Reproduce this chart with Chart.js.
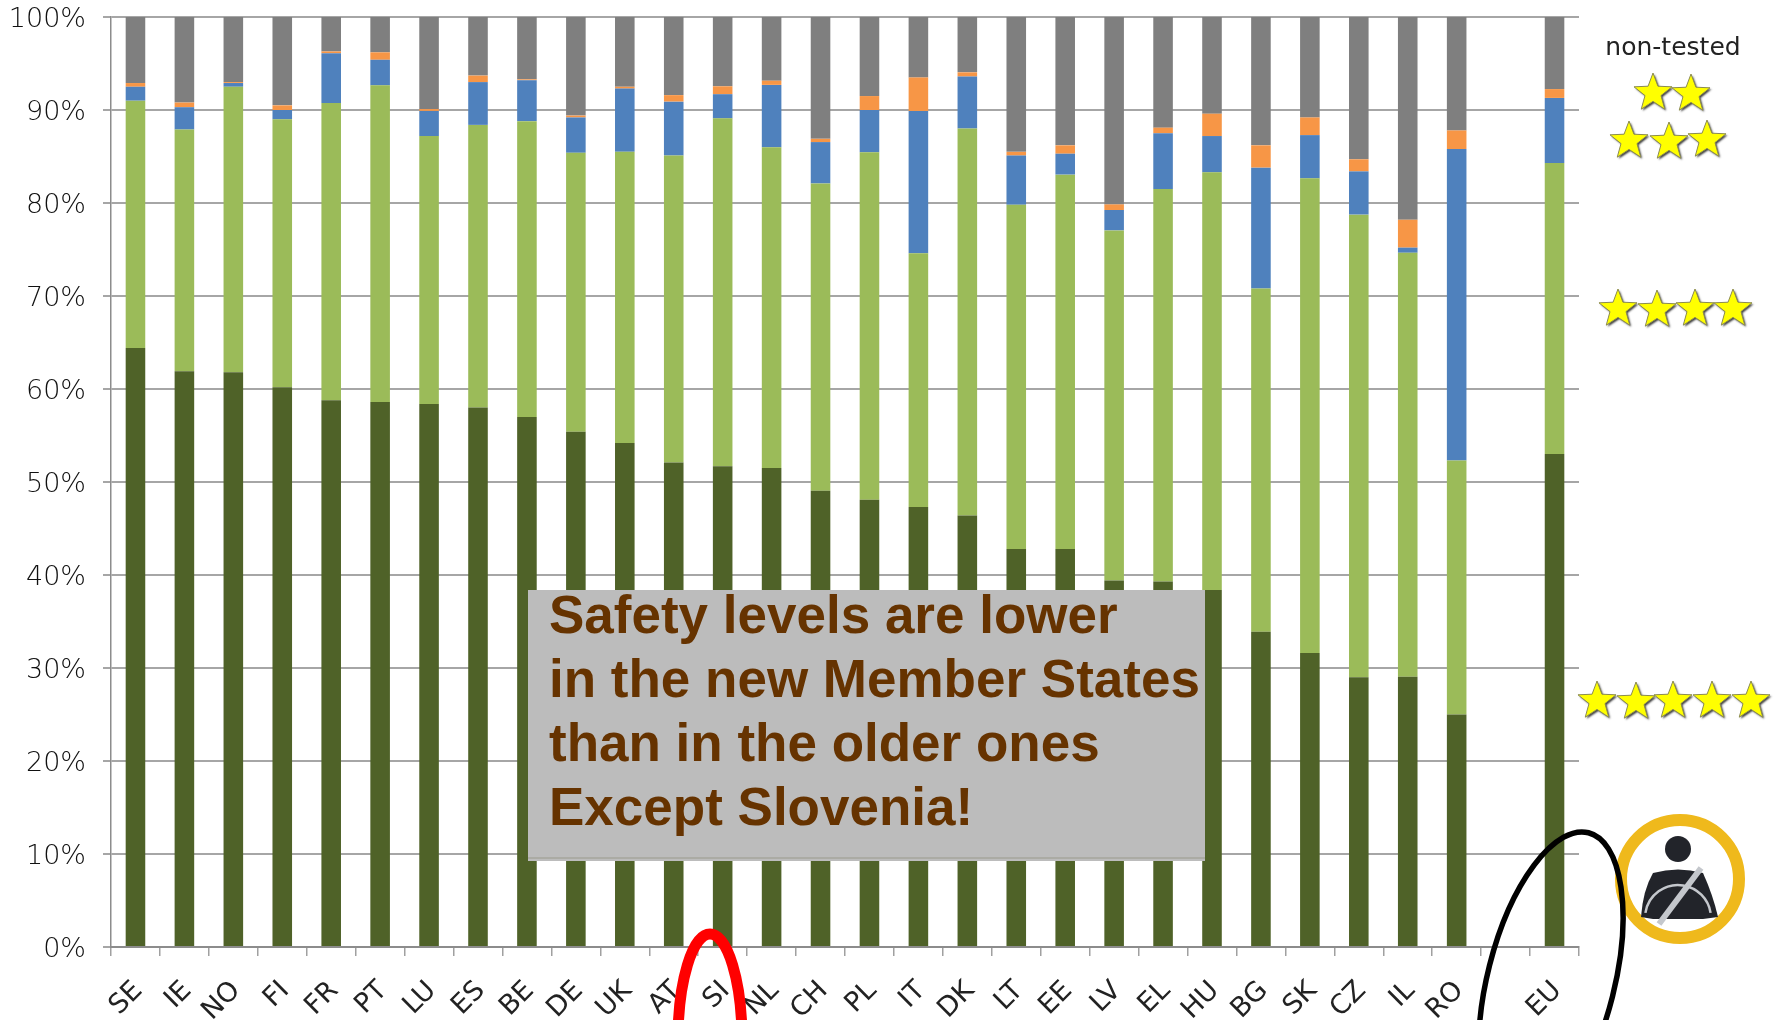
<!DOCTYPE html>
<html lang="en">
<head>
  <meta charset="UTF-8">
  <title>Car occupant safety levels by country</title>
  <script src="https://cdn.jsdelivr.net/npm/chart.js"></script>
  <style>
    html, body { margin: 0; padding: 0; background: #fff; overflow: hidden; }
    canvas { display: block; }
  </style>
</head>
<body>
  <canvas id="safetyChart" width="1781" height="1020"></canvas>

<script>
// countries, with one empty slot before the EU average
const countries = ['SE','IE','NO','FI','FR','PT','LU','ES','BE','DE','UK','AT','SI','NL','CH','PL','IT','DK','LT','EE','LV','EL','HU','BG','SK','CZ','IL','RO','','EU'];

// share of cars per star rating, in percent
const fiveStar = [64.4,61.9,61.8,60.2,58.8,58.6,58.4,58.0,57.0,55.4,54.2,52.1,51.7,51.5,49.05,48.1,47.3,46.4,42.8,42.8,39.4,39.3,38.4,33.9,31.6,29.0,29.05,25.0,null,53.0];
const fourStar = [26.6,26.0,30.7,28.8,31.95,34.05,28.8,30.4,31.8,30.0,31.3,33.0,37.4,34.5,33.05,37.35,27.3,41.6,37.0,40.25,37.65,42.2,44.9,36.9,51.05,49.75,45.6,27.3,null,31.3];
const threeStar = [1.5,2.4,0.4,1.0,5.35,2.75,2.7,4.6,4.4,3.8,6.8,5.8,2.6,6.7,4.45,4.55,15.3,5.6,5.3,2.25,2.2,6.0,3.9,13.0,4.65,4.65,0.55,33.5,null,7.0];
const twoStar = [0.4,0.5,0.1,0.5,0.2,0.8,0.2,0.7,0.1,0.2,0.2,0.7,0.85,0.45,0.35,1.5,3.6,0.45,0.4,0.9,0.6,0.6,2.4,2.4,1.9,1.3,3.0,2.0,null,0.95];
const nonTested = [7.1,9.2,7.0,9.5,3.7,3.8,9.9,6.3,6.7,10.6,7.5,8.4,7.45,6.85,13.1,8.5,6.5,5.95,14.5,13.8,20.15,11.9,10.4,13.8,10.8,15.3,21.8,12.2,null,7.75];

const noteLines = ['Safety levels are lower','in the new Member States','than in the older ones','Except Slovenia!'];

// one five-pointed star with a soft dark edge
function drawStar(ctx, cx, cy, r) {
  ctx.save();
  ctx.beginPath();
  for (let i = 0; i < 10; i++) {
    const rad = i % 2 ? r * 0.42 : r;
    const a = -Math.PI / 2 + i * Math.PI / 5;
    ctx.lineTo(cx + rad * Math.cos(a), cy + rad * Math.sin(a));
  }
  ctx.closePath();
  ctx.shadowColor = 'rgba(30,30,30,0.85)';
  ctx.shadowBlur = 2;
  ctx.shadowOffsetX = 1.5;
  ctx.shadowOffsetY = 1.5;
  ctx.fillStyle = '#ffff00';
  ctx.fill();
  ctx.shadowColor = 'transparent';
  ctx.lineWidth = 1;
  ctx.strokeStyle = '#8a8a50';
  ctx.stroke();
  ctx.restore();
}

// seat belt pictogram
function drawBeltIcon(ctx) {
  ctx.save();
  ctx.beginPath();
  ctx.arc(1680, 879, 59, 0, Math.PI * 2);
  ctx.lineWidth = 12;
  ctx.strokeStyle = '#efb91c';
  ctx.stroke();

  ctx.fillStyle = '#22242a';
  ctx.beginPath();
  ctx.arc(1678, 849, 13, 0, Math.PI * 2);
  ctx.fill();

  ctx.beginPath();
  ctx.moveTo(1653, 873);
  ctx.quadraticCurveTo(1678, 866, 1703, 873);
  ctx.quadraticCurveTo(1713, 895, 1718, 917);
  ctx.lineTo(1703, 919);
  ctx.lineTo(1653, 919);
  ctx.lineTo(1641, 917);
  ctx.quadraticCurveTo(1643, 890, 1653, 873);
  ctx.closePath();
  ctx.fill();

  // steering wheel and belt
  ctx.strokeStyle = '#c4c7cc';
  ctx.lineWidth = 2.5;
  ctx.beginPath();
  ctx.arc(1678, 918, 33, Math.PI * 1.05, Math.PI * 1.95);
  ctx.stroke();
  ctx.lineWidth = 6;
  ctx.beginPath();
  ctx.moveTo(1701, 868);
  ctx.lineTo(1659, 924);
  ctx.stroke();
  ctx.restore();
}

// grey note box, star rating column, highlight ellipses
const overlays = {
  id: 'overlays',
  afterDraw(chart) {
    const ctx = chart.ctx;
    ctx.save();

    ctx.fillStyle = '#bcbcbc';
    ctx.fillRect(528, 590, 677, 271);
    ctx.fillStyle = '#ababa4';
    ctx.fillRect(528, 857, 677, 2);

    ctx.fillStyle = '#663300';
    ctx.font = 'bold 53px "Liberation Sans", Arial, sans-serif';
    ctx.textAlign = 'left';
    ctx.textBaseline = 'alphabetic';
    noteLines.forEach((line, i) => ctx.fillText(line, 549, 633 + i * 64));

    ctx.fillStyle = '#222';
    ctx.font = '25px "DejaVu Sans", sans-serif';
    ctx.textAlign = 'center';
    ctx.fillText('non-tested', 1673, 55);

    [[1653, 93], [1691, 94],
     [1629, 141], [1669, 142], [1707, 140],
     [1618, 309], [1657, 310], [1695, 309], [1733, 309],
     [1597, 701], [1636, 702], [1673, 701], [1712, 701], [1751, 701]
    ].forEach(p => drawStar(ctx, p[0], p[1], 20));

    drawBeltIcon(ctx);

    ctx.lineWidth = 11;
    ctx.strokeStyle = '#ff0000';
    ctx.beginPath();
    ctx.ellipse(710, 1040, 32, 106, 0, 0, Math.PI * 2);
    ctx.stroke();

    ctx.lineWidth = 5.5;
    ctx.strokeStyle = '#000';
    ctx.beginPath();
    ctx.ellipse(1551, 981, 63.4, 152.9, 14.2 * Math.PI / 180, 0, Math.PI * 2);
    ctx.stroke();

    ctx.restore();
  }
};

const ctx = document.getElementById('safetyChart').getContext('2d');
new Chart(ctx, {
  type: 'bar',
  data: {
    labels: countries,
    datasets: [
      { label: '5 stars', data: fiveStar, backgroundColor: '#4f6228' },
      { label: '4 stars', data: fourStar, backgroundColor: '#9bbb59' },
      { label: '3 stars', data: threeStar, backgroundColor: '#4f81bd' },
      { label: '2 stars', data: twoStar, backgroundColor: '#f79646' },
      { label: 'non-tested', data: nonTested, backgroundColor: '#7f7f7f' }
    ]
  },
  options: {
    responsive: false,
    animation: false,
    layout: { autoPadding: false, padding: { top: 17, right: 202, left: 0, bottom: 0 } },
    datasets: { bar: { categoryPercentage: 1, barPercentage: 0.4 } },
    plugins: { legend: { display: false }, tooltip: { enabled: false } },
    scales: {
      x: {
        stacked: true,
        afterFit(scale) { scale.height = 73; },
        border: { color: '#8c8c8c', width: 2 },
        grid: { drawOnChartArea: false, color: '#a0a0a0', tickLength: 9, lineWidth: 1.5 },
        ticks: {
          autoSkip: false,
          minRotation: 45,
          maxRotation: 45,
          padding: 19,
          labelOffset: 3,
          color: '#222',
          font: { family: '"DejaVu Sans", sans-serif', size: 27 }
        }
      },
      y: {
        stacked: true,
        min: 0,
        max: 100,
        // the tick padding would otherwise push the plot area down
        afterFit(scale) { scale.width = 111; scale.paddingTop = 0; scale.paddingBottom = 0; },
        border: { color: '#8c8c8c', width: 1.5 },
        grid: { color: '#a6a6a6', lineWidth: 2, tickLength: 8 },
        ticks: {
          stepSize: 10,
          padding: 17,
          labelOffset: 3,
          color: '#111',
          font: { family: '"DejaVu Sans", sans-serif', size: 27, weight: '200' },
          callback: v => v + '%'
        }
      }
    }
  },
  plugins: [overlays]
});
</script>
</body>
</html>
